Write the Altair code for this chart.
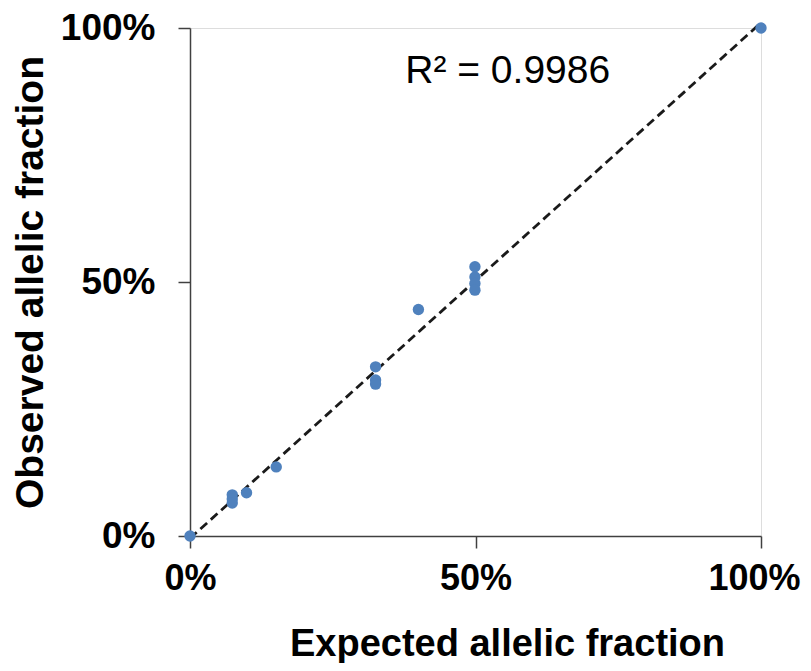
import altair as alt
import pandas as pd

expected = [0.0, 0.074, 0.074, 0.074, 0.099, 0.151, 0.325, 0.325, 0.325, 0.40, 0.499, 0.499, 0.499, 0.499, 1.0]
observed = [0.0, 0.081, 0.073, 0.065, 0.085, 0.136, 0.333, 0.307, 0.299, 0.446, 0.530, 0.510, 0.497, 0.484, 1.0]
tick_values = [0, 0.5, 1]
r2_label = "R² = 0.9986"

df = pd.DataFrame({"expected": expected, "observed": observed})

FONT = "Liberation Sans"
AXCOL = "#404040"

xscale = alt.Scale(domain=[0, 1], nice=False, zero=False)
yscale = alt.Scale(domain=[0, 1], nice=False, zero=False)

xaxis = alt.Axis(values=tick_values, format=".0%", grid=False, domainColor=AXCOL,
                 domainWidth=1.5, tickColor=AXCOL, tickWidth=1.5, tickSize=12,
                 labelFont=FONT, labelFontSize=36, labelFontWeight="bold", labelColor="black",
                 labelPadding=13, labelFlush=False, labelOverlap=False,
                 labelOffset={"condition": {"test": "datum.value == 1", "value": -7}, "value": 0},
                 title="Expected allelic fraction", titleFont=FONT, titleFontSize=38,
                 titleFontWeight="bold", titleColor="black",
                 titleX=317, titleY=119, titleBaseline="alphabetic", titleAlign="center")
yaxis = alt.Axis(values=tick_values, format=".0%", grid=False, domainColor=AXCOL,
                 domainWidth=1.5, tickColor=AXCOL, tickWidth=1.5, tickSize=12,
                 labelFont=FONT, labelFontSize=37, labelFontWeight="bold", labelColor="black",
                 labelPadding=23, labelFlush=False, labelOverlap=False,
                 title="Observed allelic fraction", titleFont=FONT, titleFontSize=39,
                 titleFontWeight="bold", titleColor="black",
                 titleX=-148, titleY=254, titleAngle=-90, titleBaseline="alphabetic",
                 titleAlign="center")

base = alt.Chart(df)

points = base.mark_circle(size=130, color="#4F81BD", opacity=1, clip=False).encode(
    x=alt.X("expected:Q", scale=xscale, axis=xaxis),
    y=alt.Y("observed:Q", scale=yscale, axis=yaxis),
)

trend = base.transform_regression("expected", "observed", extent=[0, 1]).mark_line(
    color="#1a1a1a", strokeWidth=2.8, strokeDash=[9, 5], clip=False
).encode(
    x=alt.X("expected:Q", scale=xscale),
    y=alt.Y("observed:Q", scale=yscale),
)

label = alt.Chart(pd.DataFrame({"t": [r2_label]})).mark_text(
    font=FONT, fontSize=39, align="left", baseline="alphabetic", color="black"
).encode(
    x=alt.datum(0.377, scale=xscale),
    y=alt.datum(0.892, scale=yscale),
    text="t:N",
)

chart = alt.layer(trend, points, label).properties(
    width=571, height=508,
    autosize=alt.AutoSizeParams(type="none"),
    padding={"left": 182, "top": 20, "right": 42, "bottom": 127},
).configure_view(stroke=None).configure(background="white")

chart.save("out.html", embed_options={"renderer": "svg", "actions": False})
